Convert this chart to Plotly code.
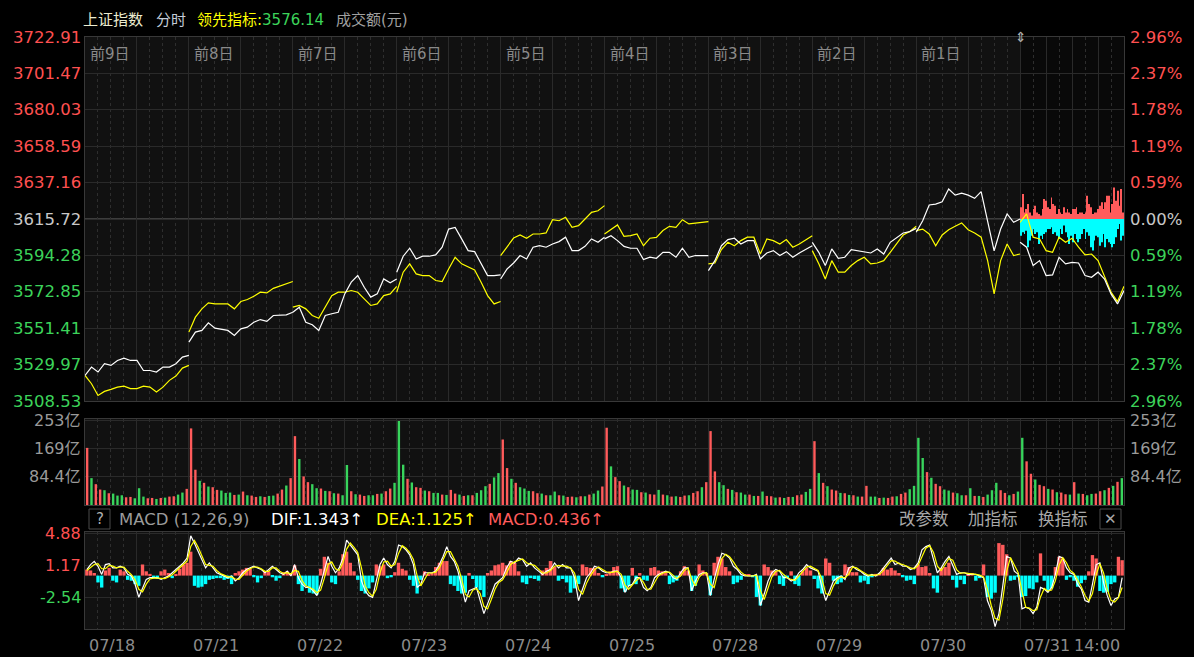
import plotly.graph_objects as go

# ---------------- data ----------------
dates = ["07/18", "07/21", "07/22", "07/23", "07/24", "07/25", "07/28", "07/29", "07/30", "07/31"]
prior_days = ["前9日", "前8日", "前7日", "前6日", "前5日", "前4日", "前3日", "前2日", "前1日"]
prev_close = 3615.72
price_ticks = [3722.91, 3701.47, 3680.03, 3658.59, 3637.16, 3615.72, 3594.28, 3572.85, 3551.41, 3529.97, 3508.53]
pct_labels = ["2.96%", "2.37%", "1.78%", "1.19%", "0.59%", "0.00%", "0.59%", "1.19%", "1.78%", "2.37%", "2.96%"]
vol_ticks = [253, 169, 84.4]
vol_labels = ["253亿", "169亿", "84.4亿"]
macd_ticks = [4.88, 1.17, -2.54]
macd_labels = ["4.88", "1.17", "-2.54"]

# Shanghai index (white), 15-minute samples per day
index_by_day = [
    [3523.6, 3528.5, 3525.6, 3530.5, 3529.5, 3532.4, 3533.8, 3532.4, 3532.4, 3526.5, 3526.5, 3525.6, 3528.5, 3528.5, 3530.5, 3534.4, 3535.4],
    [3543.2, 3549.1, 3550.1, 3554.6, 3551.4, 3550.6, 3550.1, 3547.1, 3551.0, 3552.0, 3554.9, 3556.5, 3555.4, 3558.9, 3558.9, 3559.3, 3560.8],
    [3560.8, 3563.8, 3554.9, 3553.4, 3550.1, 3558.9, 3559.9, 3560.8, 3571.6, 3578.5, 3582.4, 3575.5, 3569.7, 3571.6, 3580.4, 3578.1, 3580.4],
    [3584.4, 3593.8, 3598.5, 3592.2, 3593.8, 3593.8, 3594.6, 3599.1, 3609.8, 3610.8, 3604.0, 3597.1, 3596.5, 3589.3, 3582.4, 3582.4, 3582.8],
    [3580.4, 3586.3, 3589.8, 3594.2, 3592.2, 3599.1, 3600.0, 3599.1, 3601.0, 3602.4, 3605.0, 3597.1, 3597.1, 3599.6, 3604.0, 3602.0, 3605.0],
    [3604.0, 3605.9, 3603.0, 3599.6, 3598.5, 3598.5, 3591.8, 3593.2, 3592.6, 3596.1, 3596.1, 3593.2, 3598.5, 3593.2, 3594.2, 3594.2, 3594.2],
    [3585.3, 3591.2, 3600.0, 3603.6, 3604.4, 3601.0, 3603.0, 3603.0, 3592.2, 3595.7, 3597.1, 3594.2, 3596.5, 3593.2, 3595.7, 3597.7, 3600.0],
    [3602.0, 3596.1, 3588.3, 3598.1, 3592.6, 3593.2, 3597.7, 3597.1, 3596.1, 3595.7, 3598.1, 3595.1, 3602.0, 3605.0, 3607.5, 3608.3, 3610.2],
    [3607.9, 3614.7, 3624.0, 3624.5, 3625.9, 3633.4, 3629.8, 3631.0, 3629.8, 3627.9, 3631.8, 3614.7, 3597.0, 3609.8, 3618.7, 3613.8, 3615.7],
    [3602.0, 3599.1, 3588.3, 3591.2, 3582.4, 3582.8, 3593.2, 3589.3, 3590.2, 3589.8, 3582.4, 3581.4, 3584.4, 3580.4, 3571.6, 3565.7, 3573.6],
]
# Leading indicator (yellow), 15-minute samples per day
lead_by_day = [
    [3523.6, 3518.7, 3511.8, 3514.2, 3515.4, 3516.7, 3517.3, 3515.8, 3515.8, 3517.3, 3516.7, 3513.8, 3516.7, 3520.7, 3523.2, 3527.9, 3529.5],
    [3549.1, 3557.9, 3562.8, 3566.3, 3565.7, 3565.7, 3565.7, 3562.8, 3567.1, 3568.3, 3570.2, 3572.6, 3572.2, 3574.9, 3576.1, 3577.3, 3578.9],
    [3563.8, 3564.8, 3562.8, 3558.9, 3557.3, 3563.8, 3570.6, 3572.6, 3572.6, 3573.6, 3572.6, 3568.7, 3564.8, 3565.7, 3570.6, 3571.6, 3576.1],
    [3572.6, 3584.4, 3589.3, 3583.4, 3582.4, 3582.4, 3579.5, 3578.9, 3586.3, 3593.2, 3589.3, 3587.3, 3585.7, 3578.5, 3570.6, 3565.7, 3567.1],
    [3594.2, 3599.6, 3604.5, 3606.3, 3604.4, 3606.9, 3606.9, 3607.5, 3615.3, 3614.7, 3616.7, 3610.8, 3611.8, 3615.7, 3619.6, 3620.6, 3623.6],
    [3606.9, 3609.8, 3612.2, 3605.5, 3605.9, 3606.9, 3600.0, 3604.4, 3604.9, 3608.9, 3611.4, 3610.8, 3615.3, 3612.8, 3613.4, 3613.8, 3614.2],
    [3589.3, 3589.8, 3597.7, 3602.0, 3600.0, 3603.0, 3605.0, 3605.0, 3595.1, 3604.0, 3603.0, 3601.0, 3603.6, 3599.1, 3601.0, 3603.6, 3605.9],
    [3597.1, 3589.3, 3580.4, 3591.2, 3584.4, 3584.4, 3588.3, 3591.2, 3593.2, 3589.3, 3589.8, 3591.2, 3596.1, 3601.0, 3606.3, 3608.3, 3611.4],
    [3608.9, 3609.8, 3606.9, 3600.0, 3606.3, 3609.4, 3611.4, 3613.4, 3609.4, 3607.5, 3605.0, 3591.2, 3571.6, 3591.2, 3601.0, 3594.2, 3595.1],
    [3613.8, 3618.7, 3605.0, 3604.0, 3597.1, 3596.1, 3605.0, 3602.0, 3604.4, 3599.1, 3594.6, 3595.1, 3591.2, 3582.4, 3572.6, 3567.1, 3576.1],
]
# Last-day buying / selling strength bars (index points from previous close)
buy_strength = [6.9, 14.7, 3.9, 5.9, 8.8, 3.9, 2.0, 5.9, 7.8, 3.9, 2.9, 2.0, 5.9, 11.8, 10.8, 6.9, 5.9, 12.7, 8.8, 7.8,
                2.9, 5.9, 3.9, 2.9, 6.9, 3.9, 5.9, 3.9, 2.9, 5.9, 5.9, 6.9, 2.9, 3.9, 3.9, 2.9, 3.9, 13.7, 8.8, 6.9,
                2.9, 3.9, 3.9, 5.9, 7.8, 9.8, 5.9, 9.8, 13.7, 13.7, 3.9, 8.8, 18.6, 10.8, 16.7, 7.8, 17.6, 3.9]
sell_strength = [9.8, 7.8, 8.8, 6.9, 16.7, 12.7, 9.8, 5.9, 8.8, 7.8, 14.7, 9.8, 11.8, 8.8, 7.8, 5.9, 5.9, 4.9, 8.8, 7.8,
                 9.8, 11.8, 5.9, 8.8, 3.9, 7.8, 10.8, 14.7, 9.8, 13.7, 8.8, 11.8, 13.7, 11.8, 8.8, 5.9, 11.8, 7.8, 9.8, 16.7,
                 18.6, 12.7, 9.8, 10.8, 15.7, 13.7, 8.8, 16.7, 11.8, 13.7, 14.7, 16.7, 14.7, 10.8, 5.9, 2.9, 12.7, 9.8]
# Turnover (亿), 10-minute bars per day
volume_by_day = [
    [170, 80, 62, 46, 44, 35, 34, 28, 29, 23, 24, 20, 50, 25, 20, 21, 18, 21, 22, 25, 26, 31, 37, 48],
    [228, 105, 72, 66, 55, 53, 45, 43, 36, 37, 30, 31, 40, 29, 28, 24, 26, 24, 27, 28, 34, 46, 58, 80],
    [205, 137, 85, 68, 62, 50, 49, 42, 41, 35, 34, 29, 119, 41, 32, 31, 27, 29, 29, 33, 34, 41, 49, 66],
    [250, 120, 78, 67, 53, 51, 43, 41, 36, 36, 31, 30, 45, 34, 31, 27, 29, 29, 36, 44, 56, 63, 82, 95],
    [195, 110, 78, 66, 53, 49, 42, 41, 35, 34, 29, 29, 40, 29, 28, 24, 25, 23, 26, 26, 31, 34, 43, 55],
    [230, 115, 83, 71, 58, 53, 46, 45, 38, 37, 32, 31, 45, 31, 29, 25, 26, 24, 28, 29, 36, 41, 53, 68],
    [220, 100, 68, 59, 48, 45, 38, 37, 31, 31, 27, 27, 40, 27, 26, 22, 23, 21, 24, 24, 29, 31, 39, 48],
    [190, 95, 66, 56, 46, 43, 36, 35, 30, 29, 25, 25, 57, 25, 25, 21, 22, 21, 25, 26, 33, 37, 47, 57],
    [200, 140, 98, 81, 63, 56, 46, 43, 37, 35, 29, 29, 50, 27, 27, 24, 31, 44, 66, 44, 36, 29, 33, 40],
    [200, 130, 93, 76, 60, 56, 48, 46, 38, 37, 32, 31, 68, 34, 33, 29, 33, 34, 41, 44, 51, 57, 69, 80],
]
volume_dir_by_day = [
    "rgrrgrgggrrgggrrgrgrrggr", "rrgrgrrgggrgrgrrgrggrrgr", "rgrrggrgrgrggrgrrggrgrrg",
    "ggrgrrgrggrgrrgrgrgggrgg", "rrgrgggrrgrggrgrrgrgrggr", "rgrrgrggrgrrgrgrgrrgrrgr",
    "rrggrgrggrgrgrrgrgrgrrgg", "rgrgrrgrgrgrrggrgrrgrrgg", "ggrgrrggrggrgrgrgggrrgrg",
    "grrgrrgrgrrgrgrggrrgrgrg",
]
# MACD (12,26,9)
dif_by_day = [
    [0.71, 1.29, 1.67, 1.09, 0.14, 1.29, 1.40, 0.90, 0.90, 1.09, 0.90, 0.14, -0.05, -1.01, -2.54, -1.58, -0.44, -0.25, -0.25, -0.25, -0.44, -0.25, -0.05, 0.33, 0.71, 1.09, 1.48, 2.05],
    [4.65, 3.77, 2.82, 1.67, 0.90, 1.48, 0.90, 0.33, 0.14, -0.05, -0.25, -0.05, -0.63, -0.25, 0.33, 0.71, 0.90, 1.09, 0.90, 0.71, 0.33, 0.71, 1.09, 0.71, 0.33, 0.14, 0.52, -0.05],
    [1.29, -0.25, -1.01, -1.39, -1.39, -1.78, -2.35, -1.01, 0.52, 2.24, 1.09, 0.33, 0.90, 2.05, 4.15, 3.58, 3.01, 2.43, -0.63, -1.78, -2.35, -2.54, -0.63, 1.29, 2.05, 1.29, 0.90, 1.67],
    [3.58, 3.39, 3.01, 2.43, 1.29, -1.39, -1.01, 0.33, 0.33, 0.33, 0.52, 1.29, 2.24, 3.39, 2.24, 1.67, 0.52, -1.39, -3.11, -1.78, -1.58, -1.39, -2.92, -4.45, -3.31, -2.16, -1.01, -0.63],
    [-0.25, 0.90, 1.67, 1.48, 2.05, 1.86, 1.09, 1.48, 0.90, 0.52, 0.14, 0.52, 0.71, 1.48, 0.90, 1.29, 0.90, 0.90, -0.25, -2.92, -1.58, -0.25, 0.33, 1.09, 0.90, 0.52],
    [0.33, 0.33, 0.52, 0.52, -0.25, -1.97, -1.20, -1.01, -0.25, -0.25, -1.39, -1.78, -1.39, -0.25, 0.14, 0.33, 0.52, 0.33, -0.25, -0.44, 0.33, 0.90, 0.90, -1.78, -0.63, 0.14, 0.33, 0.33],
    [-2.35, -0.44, 1.29, 2.62, 2.43, 2.05, 1.09, 0.71, 0.14, -0.05, -0.05, -0.05, 0.14, -3.50, -2.16, -0.63, 0.33, 0.71, 0.52, -0.25, -0.25, -0.63, -0.44, 0.33, 0.71, 1.29, 0.90],
    [0.71, 0.52, -1.39, -2.92, -1.78, -0.63, -0.25, -0.05, -0.44, 0.90, 1.09, 0.71, 0.52, 0.14, -0.05, 0.14, -0.05, 0.33, 0.90, 1.48, 2.05, 1.29, 1.48, 1.09, 1.09, 0.71, 0.90],
    [1.48, 3.01, 3.39, 3.58, 1.86, 0.33, 0.90, 1.67, 2.24, 1.29, 0.14, 0.33, 0.33, 0.14, 0.14, 0.14, -0.05, -0.25, -2.92, -4.07, -5.98, -4.45, -1.20, 2.24, 2.05, 0.52, 0.14],
    [-3.88, -3.69, -3.88, -4.45, -3.69, -1.39, -1.58, -1.97, -1.39, 0.14, 2.24, 2.05, 0.90, 0.33, 0.14, -1.01, -1.58, -2.92, -3.11, -1.01, 1.29, 1.48, -0.82, -2.35, -3.50, -2.73, -2.54, -0.25],
]
dea_by_day = [
    [0.6, 0.9, 1.3, 1.4, 0.8, 0.8, 1.2, 1.1, 0.9, 1.0, 1.0, 0.5, 0.1, -0.5, -1.6, -1.9, -1.0, -0.4, -0.3, -0.3, -0.35, -0.35, -0.15, 0.1, 0.5, 0.9, 1.3, 1.7],
    [3.4, 4.1, 3.3, 2.2, 1.3, 1.2, 1.1, 0.6, 0.25, 0.05, -0.15, -0.15, -0.4, -0.45, 0.0, 0.5, 0.8, 1.0, 1.0, 0.8, 0.5, 0.5, 0.9, 0.9, 0.5, 0.25, 0.35, 0.2],
    [0.6, 0.5, -0.6, -1.2, -1.4, -1.6, -2.0, -1.7, -0.3, 1.3, 1.6, 0.8, 0.6, 1.5, 3.1, 3.8, 3.3, 2.7, 0.9, -1.2, -2.0, -2.4, -1.6, 0.3, 1.6, 1.7, 1.1, 1.3],
    [2.6, 3.5, 3.2, 2.7, 1.9, 0.0, -1.2, -0.4, 0.3, 0.3, 0.4, 0.9, 1.8, 2.8, 2.8, 2.0, 1.1, -0.4, -2.2, -2.5, -1.7, -1.5, -2.1, -3.6, -3.9, -2.8, -1.6, -0.8],
    [-0.5, 0.3, 1.3, 1.6, 1.8, 1.95, 1.5, 1.3, 1.2, 0.7, 0.3, 0.3, 0.6, 1.1, 1.2, 1.1, 1.1, 0.9, 0.3, -1.6, -2.2, -0.9, 0.0, 0.7, 1.0, 0.7],
    [0.45, 0.35, 0.4, 0.5, 0.15, -1.1, -1.6, -1.1, -0.6, -0.25, -0.8, -1.6, -1.6, -0.8, -0.05, 0.25, 0.4, 0.4, 0.05, -0.35, -0.05, 0.6, 0.9, -0.4, -1.2, -0.2, 0.25, 0.33],
    [-1.0, -1.4, 0.4, 2.0, 2.5, 2.2, 1.6, 0.9, 0.4, 0.05, -0.05, -0.05, 0.05, -1.7, -2.8, -1.4, -0.15, 0.5, 0.6, 0.15, -0.25, -0.45, -0.55, -0.05, 0.5, 1.0, 1.1],
    [0.8, 0.6, -0.4, -2.1, -2.3, -1.2, -0.45, -0.15, -0.25, 0.2, 1.0, 0.9, 0.6, 0.35, 0.05, 0.05, 0.05, 0.15, 0.6, 1.2, 1.75, 1.7, 1.4, 1.3, 1.1, 0.9, 0.8],
    [1.2, 2.2, 3.2, 3.5, 2.7, 1.1, 0.6, 1.3, 2.0, 1.8, 0.7, 0.25, 0.33, 0.25, 0.15, 0.14, 0.05, -0.15, -1.6, -3.5, -5.0, -5.2, -2.8, 0.5, 2.1, 1.3, 0.35],
    [-1.8, -3.7, -3.8, -4.1, -4.0, -2.5, -1.5, -1.8, -1.7, -0.6, 1.2, 2.1, 1.5, 0.6, 0.25, -0.45, -1.3, -2.3, -3.0, -2.1, 0.1, 1.4, 0.3, -1.6, -2.9, -3.1, -2.6, -1.4],
]
hist_by_day = [
    [0.7, 0.6, 0.3, -0.8, -1.4, 0.6, 0.9, -0.6, -0.8, 0.7, 0.5, -0.5, -0.6, -1.0, -1.2, 1.3, 0.5, 0.2, -0.3, -0.4, 0.5, 0.7, 0.3, -0.3, 0.2, 0.8, 1.3, 1.5],
    [2.8, -1.2, -1.4, -1.3, -1.0, -0.5, -0.4, -0.3, -0.3, -0.5, -0.4, -1.0, 0.3, 0.5, 0.7, 0.9, 0.8, -0.2, -0.8, -0.3, 0.5, 0.5, -0.2, -0.6, -0.3, 0.4, 0.5, 0.3],
    [1.2, -1.0, -1.8, -1.2, -2.0, -2.1, -2.2, 0.8, 2.2, 1.5, -0.8, -1.0, 0.5, 2.5, 2.8, 1.5, 0.5, -0.5, -1.8, -2.1, -1.5, -0.8, 1.3, 1.1, 1.3, -0.3, -0.2, 0.4],
    [1.5, 0.8, 0.6, -0.5, -1.2, -2.1, -0.5, 0.5, 0.2, 0.3, 1.0, 1.5, 1.7, 1.7, -1.0, -1.2, -1.8, -2.1, -2.0, 0.3, -0.4, -1.4, -1.7, -2.5, 0.3, 0.6, 1.2, 1.3],
    [1.5, 1.2, 1.7, 1.5, 0.5, -0.8, -1.0, -0.3, -0.4, -0.6, 0.6, 0.9, 1.7, 1.0, -0.6, -0.4, -0.8, -2.0, -1.5, -1.0, 1.3, 1.0, 0.9, 0.9, 0.3, -0.2],
    [0.2, 0.5, 1.0, 1.1, -1.5, -1.9, -1.2, 0.9, -1.0, 0.3, -0.5, -0.6, 0.9, 1.0, 0.6, 0.5, 0.4, -1.0, -0.8, -0.6, 0.5, 1.1, 0.6, -1.8, -1.2, 1.3, 0.6, 0.3],
    [-2.3, 1.5, 2.2, 2.0, 1.0, 0.5, -1.0, -0.8, -0.5, 0.1, 0.1, -0.2, -2.5, -3.5, 1.3, 1.0, 0.6, 0.5, -1.0, -1.2, -0.3, 0.5, -1.0, -1.2, 0.5, 0.9, 0.6],
    [-0.4, -1.5, -2.1, 2.0, 1.5, -0.6, -1.0, -0.8, 1.3, 1.0, 0.4, 0.4, -0.8, -0.6, -1.0, -0.2, 0.2, 0.3, 0.9, 0.7, 0.9, 0.6, 0.3, -0.2, -0.6, -0.5, -1.0],
    [1.3, 1.0, 1.1, 0.3, -1.5, -2.0, 0.9, 1.0, 1.5, -0.5, -1.4, -0.5, -1.0, 0.2, 0.3, -0.6, -0.3, 1.3, -2.5, -2.7, -2.0, 3.8, 3.6, 2.5, -0.6, -0.5, -0.2],
    [-2.5, -2.4, -1.5, -1.6, -0.8, 2.6, -0.6, -1.8, -1.5, 1.0, 2.2, 2.0, -0.5, -0.2, -0.6, -1.3, -0.9, -0.5, 0.5, 2.4, 2.0, -1.8, -2.0, -1.9, -1.0, -0.8, 2.2, 1.8],
]

# ---------------- styling ----------------
W, H = 1194, 657
FONT = "DejaVu Sans, Noto Sans CJK SC, sans-serif"
RED = "#ff5050"
GREEN = "#3cd35a"
BAR_RED = "#ff5b5b"
BAR_GREEN = "#38d45c"
CYAN = "#00ffff"
GRID = "#2a2a2a"
BORDER = "#383838"
DAY = 240  # minutes per trading session

def px_x(p):
    return p / W

def px_y(p):
    return 1 - p / H

X_DOM = [px_x(85), px_x(1124)]
MAIN_DOM = [px_y(401), px_y(37)]
VOL_DOM = [px_y(505), px_y(419)]
MACD_DOM = [px_y(629), px_y(532)]

fig = go.Figure()

# ----- main panel -----
n_days = len(dates)
last = n_days - 1
nb = len(buy_strength)
step_b = DAY / nb
bx = [last * DAY + (i + 0.5) * step_b for i in range(nb)]
fig.add_trace(go.Bar(x=bx, y=buy_strength, base=prev_close, width=step_b * 0.45,
                     marker=dict(color=BAR_RED, line_width=0), xaxis="x", yaxis="y", hoverinfo="skip"))
ns = len(sell_strength)
step_s = DAY / ns
sx = [last * DAY + (i + 0.5) * step_s for i in range(ns)]
fig.add_trace(go.Bar(x=sx, y=[-v for v in sell_strength], base=prev_close, width=step_s * 0.45,
                     marker=dict(color=CYAN, line_width=0), xaxis="x", yaxis="y", hoverinfo="skip"))


def day_series(by_day):
    xs, ys = [], []
    for d, vals in enumerate(by_day):
        st = DAY / (len(vals) - 1)
        for k, v in enumerate(vals):
            xs.append(d * DAY + k * st)
            ys.append(v)
        xs.append(None)
        ys.append(None)
    return xs, ys

lx, ly = day_series(lead_by_day)
fig.add_trace(go.Scatter(x=lx, y=ly, mode="lines", line=dict(color="#ffff00", width=1.2),
                         xaxis="x", yaxis="y", hoverinfo="skip", connectgaps=False))
wx, wy = day_series(index_by_day)
fig.add_trace(go.Scatter(x=wx, y=wy, mode="lines", line=dict(color="#ffffff", width=1.2),
                         xaxis="x", yaxis="y", hoverinfo="skip", connectgaps=False))

# ----- volume panel -----
vx, vy, vc = [], [], []
for d, vals in enumerate(volume_by_day):
    st = DAY / len(vals)
    for j, v in enumerate(vals):
        vx.append(d * DAY + (j + 0.5) * st)
        vy.append(v)
        vc.append(BAR_RED if volume_dir_by_day[d][j] == "r" else BAR_GREEN)
fig.add_trace(go.Bar(x=vx, y=vy, width=DAY / 24 * 0.55, marker=dict(color=vc, line_width=0),
                     xaxis="x2", yaxis="y2", hoverinfo="skip"))

# ----- MACD panel -----
hx, hy, hc, hw = [], [], [], []
for d, vals in enumerate(hist_by_day):
    st = DAY / len(vals)
    for i, v in enumerate(vals):
        hx.append(d * DAY + (i + 0.5) * st)
        hy.append(v)
        hc.append(BAR_RED if v >= 0 else CYAN)
        hw.append(st * 0.9)
fig.add_trace(go.Bar(x=hx, y=hy, width=hw, marker=dict(color=hc, line_width=0),
                     xaxis="x3", yaxis="y3", hoverinfo="skip"))


def cont_series(by_day):
    xs, ys = [], []
    for d, vals in enumerate(by_day):
        st = DAY / len(vals)
        for i, v in enumerate(vals):
            xs.append(d * DAY + (i + 0.5) * st)
            ys.append(v)
    return xs, ys

dx, dy = cont_series(dif_by_day)
fig.add_trace(go.Scatter(x=dx, y=dy, mode="lines", line=dict(color="#ffffff", width=1.2),
                         xaxis="x3", yaxis="y3", hoverinfo="skip"))
ex, ey = cont_series(dea_by_day)
fig.add_trace(go.Scatter(x=ex, y=ey, mode="lines", line=dict(color="#ffff00", width=1.2),
                         xaxis="x3", yaxis="y3", hoverinfo="skip"))

# ----- grid ticks -----
major, minor = [], []
for d in range(n_days):
    if d < last:
        major += [d * DAY, d * DAY + 120]
        minor += [d * DAY + m for m in (30, 60, 90, 150, 180, 210)]
    else:
        major += [d * DAY + m for m in (0, 60, 120, 180)]
        minor += [d * DAY + m for m in (30, 90, 150, 210)]
major.append(n_days * DAY)


def xaxis_cfg(anchor):
    return dict(domain=X_DOM, range=[0, n_days * DAY], anchor=anchor, showticklabels=False,
                tickmode="array", tickvals=major, showgrid=True, gridcolor=GRID, gridwidth=1,
                zeroline=False, showline=True, linecolor=BORDER, mirror=True, ticks="",
                minor=dict(tickmode="array", tickvals=minor, showgrid=True, gridcolor="#2e2e2e",
                           griddash="dot", gridwidth=1),
                fixedrange=True)


def yaxis_cfg(dom, rng, ticks, anchor):
    return dict(domain=dom, range=rng, anchor=anchor, tickmode="array", tickvals=ticks,
                showticklabels=False, showgrid=True, gridcolor=GRID, gridwidth=1,
                zeroline=False, showline=True, linecolor=BORDER, mirror=True, ticks="", fixedrange=True)

shapes = []
# darker background of current day in each panel
for ya in ("y", "y2", "y3"):
    shapes.append(dict(type="rect", xref="x", yref=ya + " domain", x0=last * DAY, x1=n_days * DAY,
                       y0=0, y1=1, fillcolor="#090909", line=dict(width=0), layer="below"))
# previous-close line
shapes.append(dict(type="line", xref="x domain", yref="y", x0=0, x1=1, y0=prev_close, y1=prev_close,
                   line=dict(color="#3d3d3d", width=2), layer="below"))
# MACD header boxes
shapes.append(dict(type="rect", xref="paper", yref="paper", x0=px_x(89), x1=px_x(110), y0=px_y(529), y1=px_y(509),
                   line=dict(color="#4a4a4a", width=1)))
shapes.append(dict(type="rect", xref="paper", yref="paper", x0=px_x(1100), x1=px_x(1121), y0=px_y(529), y1=px_y(509),
                   line=dict(color="#4a4a4a", width=1)))

ann = []


def txt(text, x, y, color, size=16, xanchor="left", yanchor="middle", xref="paper", yref="paper", **kw):
    d = dict(text=text, x=x, y=y, xref=xref, yref=yref, xanchor=xanchor, yanchor=yanchor,
             showarrow=False, font=dict(color=color, size=size, family=FONT))
    d.update(kw)
    return d

# header
ann.append(txt("上证指数", px_x(81), px_y(20), "#ececd0", 15))
ann.append(txt("分时", px_x(154), px_y(20), "#c4ccd8", 15))
ann.append(txt("<span style='color:#ffff00'>领先指标:</span><span style='color:" + GREEN + "'>3576.14</span>",
               px_x(195), px_y(20), "#ffff00", 15))
ann.append(txt("成交额(元)", px_x(334), px_y(20), "#a0a0a0", 15))

# price axis labels
for v, pl in zip(price_ticks, pct_labels):
    if v > prev_close:
        c = RED
    elif v < prev_close:
        c = GREEN
    else:
        c = "#c8c8c8"
    ann.append(txt(f"{v:.2f}", px_x(83), v, c, 16.5, xanchor="right", yref="y"))
    ann.append(txt(pl, px_x(1128), v, c, 16.5, xanchor="left", yref="y"))

# prior-day labels
for d, lab in enumerate(prior_days):
    ann.append(txt(lab, d * DAY, px_y(54), "#8a8a8a", 15, xref="x", xshift=3))
ann.append(txt("⇕", px_x(1021), px_y(37), "#b0b0b0", 14, xanchor="center"))

# volume labels
for v, lab in zip(vol_ticks, vol_labels):
    ann.append(txt(lab, px_x(83), v, "#9a9a9a", 16, xanchor="right", yref="y2"))
    ann.append(txt(lab, px_x(1128), v, "#9a9a9a", 16, xanchor="left", yref="y2"))

# MACD labels
for v, lab in zip(macd_ticks, macd_labels):
    c = RED if v > 0 else GREEN
    ann.append(txt(lab, px_x(83), v, c, 16, xanchor="right", yref="y3"))

# MACD header row
hy_ = px_y(519)
ann.append(txt("?", px_x(99.5), hy_, "#b0b0b0", 15, xanchor="center"))
ann.append(txt("MACD (12,26,9)", px_x(117), hy_, "#9a9a9a", 16.5))
ann.append(txt("DIF:1.343↑", px_x(269), hy_, "#ffffff", 16.5))
ann.append(txt("DEA:1.125↑", px_x(374), hy_, "#ffff00", 16.5))
ann.append(txt("MACD:0.436↑", px_x(486), hy_, BAR_RED, 16.5))
ann.append(txt("改参数", px_x(897), hy_, "#a8a8a8", 16.5))
ann.append(txt("加指标", px_x(966), hy_, "#a8a8a8", 16.5))
ann.append(txt("换指标", px_x(1036), hy_, "#a8a8a8", 16.5))
ann.append(txt("✕", px_x(1110.5), hy_, "#a8a8a8", 15, xanchor="center"))

# date labels
for d, lab in enumerate(dates):
    ann.append(txt(lab, d * DAY, px_y(645), "#8c8c8c", 16, xref="x", xshift=2))
ann.append(txt("14:00", px_x(1122), px_y(645), "#8c8c8c", 16, xanchor="right"))

fig.update_layout(
    width=W, height=H,
    margin=dict(l=0, r=0, t=0, b=0),
    paper_bgcolor="#000000",
    plot_bgcolor="#111111",
    showlegend=False,
    barmode="overlay",
    hovermode=False,
    font=dict(family=FONT),
    xaxis=xaxis_cfg("y"),
    xaxis2=xaxis_cfg("y2"),
    xaxis3=xaxis_cfg("y3"),
    yaxis=yaxis_cfg(MAIN_DOM, [price_ticks[-1], price_ticks[0]], price_ticks, "x"),
    yaxis2=yaxis_cfg(VOL_DOM, [0, 256], vol_ticks, "x2"),
    yaxis3=yaxis_cfg(MACD_DOM, [-6.25, 5.1], macd_ticks, "x3"),
    shapes=shapes,
    annotations=ann,
)

fig.write_html("out.html", config={"displayModeBar": False},
               post_script="document.body.style.margin='0';document.body.style.overflow='hidden';document.body.style.background='#000';")
